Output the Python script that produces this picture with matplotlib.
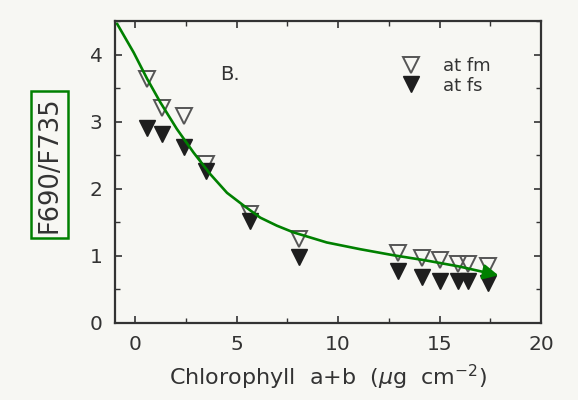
import matplotlib.pyplot as plt
from matplotlib.path import Path
from matplotlib.patches import FancyArrowPatch
from matplotlib.ticker import MultipleLocator

# chlorophyll content and fluorescence ratios
chl = [0.58, 1.31, 2.38, 3.48, 5.67, 8.08, 12.97, 14.12, 15.02, 15.9, 16.4, 17.4]
ratio_fm = [3.64, 3.21, 3.09, 2.37, 1.62, 1.25, 1.05, 0.97, 0.94, 0.88, 0.88, 0.85]
ratio_fs = [2.90, 2.82, 2.62, 2.27, 1.52, 0.99, 0.78, 0.68, 0.63, 0.63, 0.63, 0.59]

# hand-drawn trend line (points along the green arrow)
trend_x = [-0.90, -0.08, 0.58, 1.23, 2.05, 2.87, 3.69, 4.52, 5.34, 6.16,
           6.98, 7.80, 9.44, 11.08, 12.72, 14.37, 16.0, 17.9]
trend_y = [4.46, 4.03, 3.64, 3.29, 2.89, 2.54, 2.22, 1.94, 1.75, 1.57,
           1.45, 1.35, 1.20, 1.10, 1.01, 0.93, 0.84, 0.71]

bg = '#f7f7f3'
ink = '#333333'

fig = plt.figure(figsize=(5.78, 4.0), dpi=100, facecolor=bg)
ax = fig.add_axes([0.199, 0.1925, 0.737, 0.755], facecolor=bg)

ax.plot(chl, ratio_fm, linestyle='none', marker='v', markersize=11,
        markerfacecolor='none', markeredgecolor='#555555', markeredgewidth=1.4,
        label='at fm')
ax.plot(chl, ratio_fs, linestyle='none', marker='v', markersize=11,
        markerfacecolor='#1e1e1e', markeredgecolor='#1e1e1e', label='at fs')

arrow = FancyArrowPatch(path=Path(list(zip(trend_x, trend_y))),
                        arrowstyle='-|>,head_length=9,head_width=4.5',
                        color='green', lw=1.9, zorder=4, clip_on=False,
                        joinstyle='round', capstyle='round')
ax.add_patch(arrow)

ax.text(4.2, 3.71, 'B.', fontsize=14, color=ink, va='center')

ax.set_xlim(-1, 20)
ax.set_ylim(0, 4.5)
ax.xaxis.set_major_locator(MultipleLocator(5))
ax.xaxis.set_minor_locator(MultipleLocator(2.5))
ax.yaxis.set_major_locator(MultipleLocator(1))
ax.yaxis.set_minor_locator(MultipleLocator(0.5))
ax.tick_params(which='both', direction='in', top=True, right=True,
               colors=ink, labelcolor=ink)
ax.tick_params(which='major', length=5, width=1.2, labelsize=14.5, pad=9)
ax.tick_params(which='minor', length=3.5, width=1.0)
for sp in ax.spines.values():
    sp.set_linewidth(1.6)
    sp.set_color(ink)

ax.set_xlabel(r'Chlorophyll  a+b  ($\mu$g  cm$^{-2}$)', fontsize=16, color=ink,
              labelpad=6)
ax.set_ylabel('F690/F735', fontsize=18.5, color=ink,
              bbox=dict(boxstyle='square,pad=0.2', fc='none', ec='green', lw=1.8))
ax.yaxis.set_label_coords(-0.123, 0.525)

leg = ax.legend(loc='upper right', bbox_to_anchor=(0.92, 0.935), frameon=False,
                fontsize=13, handletextpad=1.3, labelspacing=0.1,
                handlelength=1.0, labelcolor=ink)

fig.savefig('out.png', dpi=100, facecolor=bg)
